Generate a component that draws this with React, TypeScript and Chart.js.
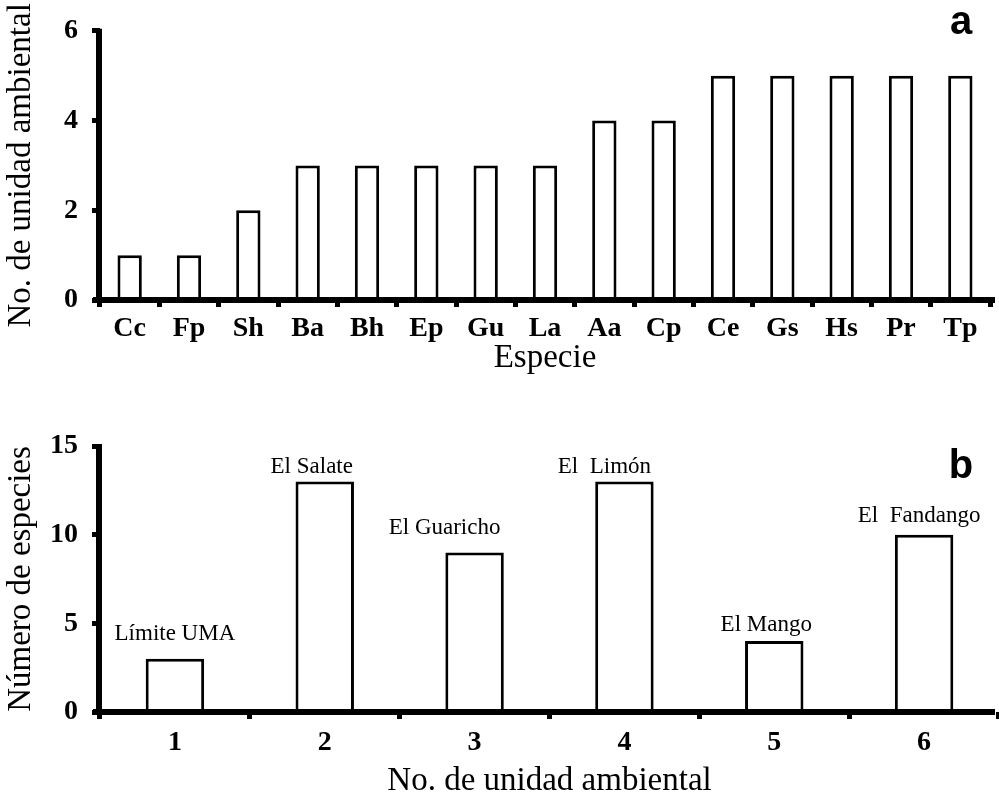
import React, { useEffect, useRef } from "react";
import { Chart, registerables } from "chart.js";

Chart.register(...registerables);

// ---------- Data ----------
const speciesLabels = ["Cc", "Fp", "Sh", "Ba", "Bh", "Ep", "Gu", "La", "Aa", "Cp", "Ce", "Gs", "Hs", "Pr", "Tp"];
const speciesUnits = [1, 1, 2, 3, 3, 3, 3, 3, 4, 4, 5, 5, 5, 5, 5];
const speciesYTicks = [0, 2, 4, 6];

const unitLabels = ["1", "2", "3", "4", "5", "6"];
const unitSpeciesCount = [3, 13, 9, 13, 4, 10];
const unitNames = ["Límite UMA", "El Salate", "El Guaricho", "El  Limón", "El Mango", "El  Fandango"];
const unitYTicks = [0, 5, 10, 15];

// ---------- Styling ----------
const SERIF = "'Liberation Serif', 'Times New Roman', serif";
const SANS = "'Liberation Sans', Arial, sans-serif";
const W = 999;
// hand-placed annotation nudges (dx, gap above bar) as in the original figure
const nameNudgeX = [0, -13, -30, -20, -8, -5];
const nameGap = [19, 8, 18, 8, 10, 13];

type PanelSpec = {
  labels: string[];
  values: number[];
  yTicks: number[];
  xTitle: string;
  yTitle: string;
  letter: string;
  height: number;
  chartTop: number;
  chartBottom: number;
  chartRight: number;
  barPct: number;
  tickPad: number;
  titleBottomPad: number;
  letterX: number;
  letterY: number;
  barNames?: string[];
};

function makeChart(canvas: HTMLCanvasElement, p: PanelSpec) {
  const axisPlugin = {
    id: "axisLines" + p.letter,
    afterDatasetsDraw(chart: any) {
      const { ctx, chartArea } = chart;
      ctx.save();
      ctx.strokeStyle = "#000";
      ctx.lineWidth = 6;
      ctx.lineCap = "butt";
      ctx.beginPath();
      ctx.moveTo(chartArea.left - 7, chartArea.bottom);
      ctx.lineTo(995, chartArea.bottom);
      ctx.stroke();
      ctx.beginPath();
      ctx.moveTo(chartArea.left - 1, chartArea.top - 2);
      ctx.lineTo(chartArea.left - 1, chartArea.bottom + 3);
      ctx.stroke();
      // bar name labels
      if (p.barNames) {
        const meta = chart.getDatasetMeta(0);
        ctx.fillStyle = "#000";
        ctx.font = `23px ${SERIF}`;
        ctx.textAlign = "center";
        ctx.textBaseline = "alphabetic";
        meta.data.forEach((bar: any, i: number) => {
          ctx.fillText(p.barNames![i], bar.x + (nameNudgeX[i] || 0), bar.y - (nameGap[i] ?? 9));
        });
      }
      // panel letter
      ctx.fillStyle = "#000";
      ctx.font = `bold 40px ${SANS}`;
      ctx.textAlign = "center";
      ctx.textBaseline = "alphabetic";
      ctx.fillText(p.letter, p.letterX, p.letterY);
      ctx.restore();
    },
  };

  return new Chart(canvas, {
    type: "bar",
    data: {
      labels: p.labels,
      datasets: [
        {
          data: p.values,
          backgroundColor: "#ffffff",
          borderColor: "#000000",
          borderWidth: 3,
          barPercentage: p.barPct,
          categoryPercentage: 1,
        },
      ],
    },
    options: {
      responsive: false,
      animation: false,
      events: [],
      layout: {
        padding: { left: 0, right: W - p.chartRight, top: p.chartTop, bottom: 0 },
      },
      plugins: {
        legend: { display: false },
        tooltip: { enabled: false },
      },
      scales: {
        x: {
          type: "category",
          offset: true,
          border: { display: false },
          grid: {
            display: true,
            offset: true,
            drawOnChartArea: false,
            drawTicks: true,
            tickLength: 7,
            lineWidth: 5,
            color: "#000",
          },
          ticks: {
            color: "#000",
            font: { family: SERIF, size: 28, weight: "bold" },
            padding: p.tickPad,
            maxRotation: 0,
            autoSkip: false,
          },
          title: {
            display: true,
            text: p.xTitle,
            color: "#000",
            font: { family: SERIF, size: 33 },
            padding: { top: 0, bottom: p.titleBottomPad },
          },
          afterFit: (s: any) => {
            s.height = p.height - p.chartBottom;
          },
        },
        y: {
          min: p.yTicks[0],
          max: p.yTicks[p.yTicks.length - 1],
          border: { display: false },
          grid: {
            display: true,
            drawOnChartArea: false,
            drawTicks: true,
            tickLength: 8,
            lineWidth: 5,
            color: "#000",
          },
          afterBuildTicks: (s: any) => {
            s.ticks = p.yTicks.map((v) => ({ value: v }));
          },
          ticks: {
            color: "#000",
            font: { family: SERIF, size: 28, weight: "bold" },
            padding: 14,
          },
          title: {
            display: true,
            text: p.yTitle,
            color: "#000",
            font: { family: SERIF, size: 33 },
            padding: { top: 2, bottom: 0 },
          },
          afterFit: (s: any) => {
            s.width = 100;
          },
        },
      },
    } as any,
    plugins: [axisPlugin],
  });
}

const panelA: PanelSpec = {
  labels: speciesLabels,
  values: speciesUnits,
  yTicks: speciesYTicks,
  xTitle: "Especie",
  yTitle: "No. de unidad ambiental",
  letter: "a",
  height: 410,
  chartTop: 28,
  chartBottom: 300,
  chartRight: 990,
  barPct: 0.41,
  tickPad: 5,
  titleBottomPad: 32,
  letterX: 961,
  letterY: 34,
};

const panelB: PanelSpec = {
  labels: unitLabels,
  values: unitSpeciesCount,
  yTicks: unitYTicks,
  xTitle: "No. de unidad ambiental",
  yTitle: "Número de especies",
  letter: "b",
  height: 392,
  chartTop: 36,
  chartBottom: 302,
  chartRight: 999,
  barPct: 0.39,
  tickPad: 7,
  titleBottomPad: 1,
  letterX: 961,
  letterY: 68,
  barNames: unitNames,
};

function Panel({ spec, top }: { spec: PanelSpec; top: number }) {
  const ref = useRef<HTMLCanvasElement>(null);
  useEffect(() => {
    if (!ref.current) return;
    const c = makeChart(ref.current, spec);
    return () => c.destroy();
  }, [spec]);
  return (
    <canvas
      ref={ref}
      width={W}
      height={spec.height}
      style={{ position: "absolute", left: 0, top, width: W, height: spec.height }}
    />
  );
}

export default function App() {
  return (
    <div
      style={{
        position: "absolute",
        left: 0,
        top: 0,
        width: W,
        height: 802,
        overflow: "hidden",
        background: "#fff",
      }}
    >
      <Panel spec={panelA} top={0} />
      <Panel spec={panelB} top={410} />
    </div>
  );
}
